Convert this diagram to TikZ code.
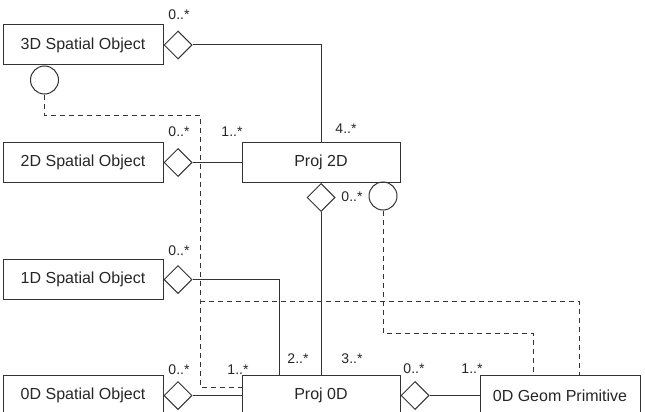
\documentclass[tikz,border=0pt]{standalone}
\usepackage{fontspec}
\setmainfont{Liberation Sans}
\usetikzlibrary{shapes.geometric}
\usetikzlibrary{calc}

\begin{document}
\begin{tikzpicture}[x=1pt, y=-1pt, line width=1pt, draw=black!80,
  box/.style={draw=black!80, minimum width=160pt, minimum height=40pt, inner sep=0pt, text=black!85, font=\fontsize{16}{19}\selectfont},
  agg/.style={draw=black!80, diamond, minimum width=28pt, minimum height=28pt, inner sep=0pt, fill=white},
  iface/.style={draw=black!80, circle, minimum size=28pt, inner sep=0pt},
  mult/.style={inner sep=0pt, text=black!85, font=\fontsize{14}{16}\selectfont},
  dep/.style={draw=black!80, dash pattern=on 5pt off 4pt}]
  \useasboundingbox (0,0) rectangle (645,412);

  \node[box] (s3d) at (83,45) {3D Spatial Object};
  \node[box] (s2d) at (83,162.5) {2D Spatial Object};
  \node[box] (s1d) at (83,279.5) {1D Spatial Object};
  \node[box] (s0d) at (83,395.5) {0D Spatial Object};
  \node[box, minimum width=158pt] (p2d) at (321,162.5) {Proj 2D};
  \node[box, minimum width=158pt] (p0d) at (321,395.5) {Proj 0D};
  \node[box] (prim) at (560,395.5) {0D Geom Primitive};

  \foreach \obj/\agg in {s3d/d3, s2d/d2, s1d/d1, s0d/d0} {
    \node[agg, anchor=west] (\agg) at (\obj.east) {};
  }
  \node[agg, anchor=north] (dp2) at (p2d.south) {};
  \node[agg, anchor=west] (dp0) at (p0d.east) {};
  \node[iface, anchor=north] (c3) at ($(s3d.south west)+(42,0)$) {};
  \node[iface] (cp2) at (383,196) {};

  \draw (d3.east) -| (p2d.north);
  \draw (d2.east) -- (p2d.west);
  \draw (d1.east) -| ($(p0d.north west)+(38,0)$);
  \draw (dp2.south) -- (dp2.south |- p0d.north);
  \draw (d0.east) -- (p0d.west);
  \draw (dp0.east) -- (prim.west);

  % dependencies
  \coordinate (j1) at (200,115);
  \coordinate (j2) at (200,301);
  \coordinate (j3) at (200,387);
  \coordinate (k1) at (533,333);
  \draw[dep] (c3.south) |- (j1) -- (j2) -- (j3) -- (j3 -| p0d.west);
  \draw[dep] (j2) -| ($(prim.north west)+(100,0)$);
  \draw[dep] (cp2.south) |- (k1) -- (k1 |- prim.north);

  \foreach \x/\y/\m [count=\i] in {179/15/0..*, 179/132/0..*, 232/132/1..*,
      346/129/4..*, 352/197/0..*, 179/251/0..*, 179/370/0..*, 238/370/1..*,
      298/359/2..*, 352/359/3..*, 414/369/0..*, 472/369/1..*} {
    \node[mult] (m\i) at (\x,\y) {\m};
  }
\end{tikzpicture}
\end{document}
